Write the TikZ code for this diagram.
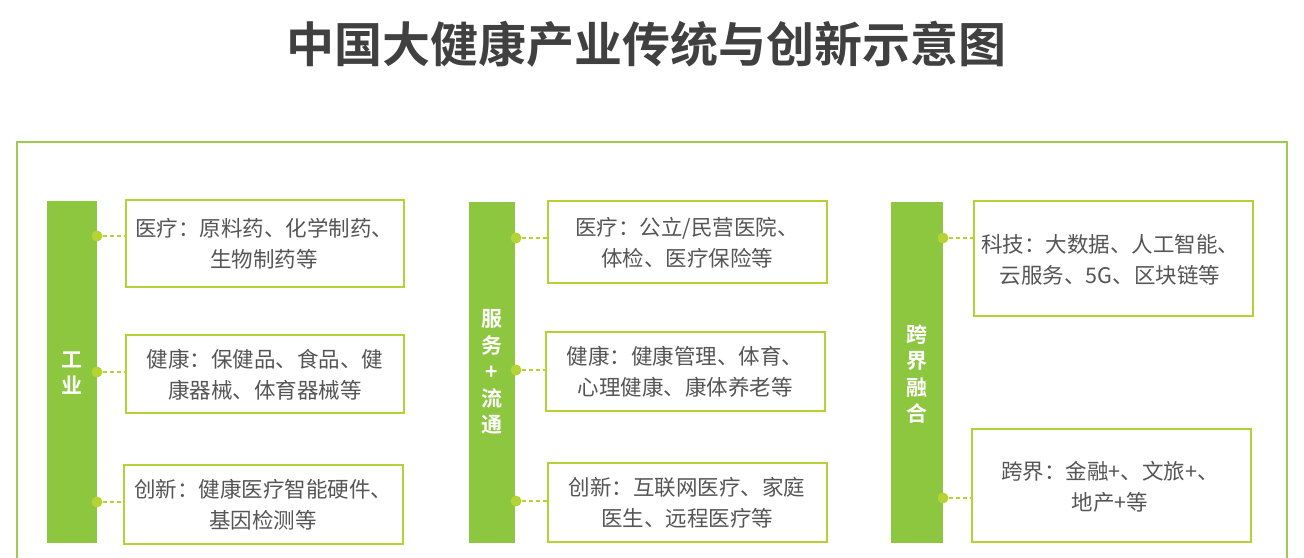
\documentclass[tikz,border=0pt]{standalone}
\usepackage{fontspec}
\newfontfamily\cjk{Noto Sans CJK SC}
\newfontfamily\cjkb{Noto Sans CJK SC Bold}
\definecolor{bargreen}{HTML}{8DC63F}
\definecolor{boxline}{HTML}{B2D235}
\definecolor{frameline}{HTML}{9CCB4E}
\definecolor{dotcol}{HTML}{B5D334}
\definecolor{txt}{HTML}{555555}
\definecolor{titlec}{HTML}{404040}
\tikzset{
  bar/.style={fill=bargreen, draw=none},
  itembox/.style={draw=boxline, line width=1.6pt, fill=white},
  boxtext/.style={font=\cjk\fontsize{21.5}{31}\selectfont, text=txt, align=center, inner sep=0pt},
  bartext/.style={font=\cjkb\fontsize{21}{26.5}\selectfont, text=white, align=center, inner sep=0pt},
  link/.style={draw=dotcol, line width=1.3pt, dash pattern=on 4pt off 3pt},
  dotc/.style={circle, fill=dotcol, inner sep=0pt, minimum size=11pt}
}
\begin{document}
\begin{tikzpicture}[x=1pt,y=-1pt]
\useasboundingbox (0,0) rectangle (1304,557);
% title
\node[font=\cjkb\fontsize{48}{52}\selectfont, text=titlec, inner sep=0pt] (title) at (646,44) {中国大健康产业传统与创新示意图};
% outer frame
\draw[frameline, line width=1.6pt] (17,570) -- (17,142) -- (1287,142) -- (1287,570);
% bars
\path[bar] (47,201) rectangle (97,543);
\node[bartext] (b1) at (72,373) {工\\业};
\path[bar] (469,202) rectangle (515,543);
\node[bartext] (b2) at (492,372) {服\\务\\+\\流\\通};
\path[bar] (891,202) rectangle (943,543);
\node[bartext] (b3) at (917,374) {跨\\界\\融\\合};
% boxes column 1
\draw[itembox] (126,200) rectangle (404,287);
\node[boxtext] (t1a) at (264,244) {医疗：原料药、化学制药、\\生物制药等};
\draw[itembox] (126,335) rectangle (404,413);
\node[boxtext] (t1b) at (265,375) {健康：保健品、食品、健\\康器械、体育器械等};
\draw[itembox] (124,465) rectangle (403,544);
\node[boxtext] (t1c) at (263,505) {创新：健康医疗智能硬件、\\基因检测等};
% boxes column 2
\draw[itembox] (548,201) rectangle (827,283);
\node[boxtext] (t2a) at (687,243) {医疗：公立/民营医院、\\体检、医疗保险等};
\draw[itembox] (546,332) rectangle (825,411);
\node[boxtext] (t2b) at (685,372) {健康：健康管理、体育、\\心理健康、康体养老等};
\draw[itembox] (548,463) rectangle (827,542);
\node[boxtext] (t2c) at (687,503) {创新：互联网医疗、家庭\\医生、远程医疗等};
% boxes column 3
\draw[itembox] (974,201) rectangle (1253,316);
\node[boxtext] (t3a) at (1110,260) {科技：大数据、人工智能、\\云服务、5G、区块链等};
\draw[itembox] (972,429) rectangle (1251,542);
\node[boxtext] (t3b) at (1110,487) {跨界：金融+、文旅+、\\地产+等};
% dots and links
\coordinate (e1a) at (126,236); \node[dotc] (d1a) at (97,236) {};
\coordinate (e1b) at (126,372); \node[dotc] (d1b) at (97,372) {};
\coordinate (e1c) at (124,502); \node[dotc] (d1c) at (97,502) {};
\coordinate (e2a) at (548,238); \node[dotc] (d2a) at (516,238) {};
\coordinate (e2b) at (546,370); \node[dotc] (d2b) at (516,370) {};
\coordinate (e2c) at (548,501); \node[dotc] (d2c) at (516,501) {};
\coordinate (e3a) at (974,238); \node[dotc] (d3a) at (943,238) {};
\coordinate (e3b) at (972,498); \node[dotc] (d3b) at (943,498) {};
\foreach \n in {1a,1b,1c,2a,2b,2c,3a,3b}{
  \draw[link] (d\n.east) -- (e\n);
}
\end{tikzpicture}
\end{document}
